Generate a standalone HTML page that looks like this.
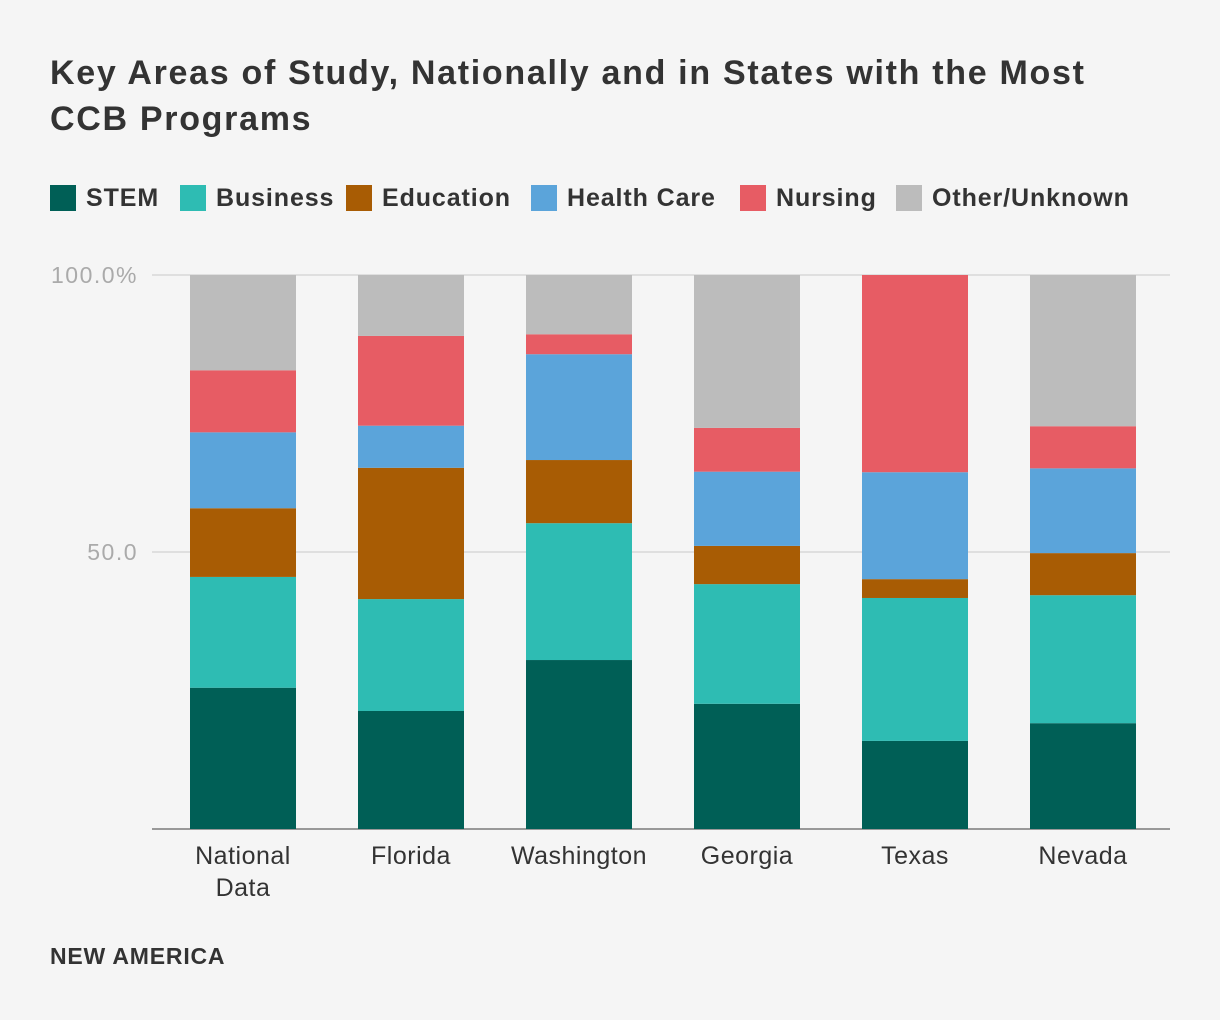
<!DOCTYPE html>
<html><head><meta charset="utf-8"><style>
body{margin:0;background:#f5f5f5;}
svg{display:block;font-family:"Liberation Sans",sans-serif;}
</style></head><body>
<svg id="chart" width="1220" height="1020">
<rect width="1220" height="1020" fill="#f5f5f5"/>
<text x="50" y="84" font-size="34" font-weight="bold" fill="#333" letter-spacing="1.7"><tspan x="50" y="84">Key Areas of Study, Nationally and in States with the Most</tspan><tspan x="50" y="130">CCB Programs</tspan></text>
<g id="legend"></g>
<g id="grid"></g>
<g id="bars"></g>
<g id="xlabels"></g>
<text x="50" y="964" font-size="23" font-weight="bold" fill="#333" letter-spacing="0.8">NEW AMERICA</text>
</svg>
<script>
const categories=["National Data","Florida","Washington","Georgia","Texas","Nevada"];
const seriesNames=["STEM","Business","Education","Health Care","Nursing","Other/Unknown"];
const stem=[25.5,21.3,30.5,22.6,15.9,19.1];
const business=[20.0,20.2,24.7,21.6,25.8,23.1];
const education=[12.4,23.7,11.4,6.9,3.4,7.6];
const healthCare=[13.7,7.6,19.1,13.4,19.3,15.3];
const nursing=[11.2,16.2,3.6,7.9,35.6,7.6];
const other=[17.2,11.0,10.7,27.6,0,27.3];
const tickValues=[0,50,100];
const tickLabels=["","50.0","100.0%"];
const colors=["#005f56","#2ebcb3","#a85c04","#5ba4da","#e75c64","#bcbcbc"];
const series=[stem,business,education,healthCare,nursing,other];
const NS="http://www.w3.org/2000/svg";
const y0=829,yTop=275,xL=152,xR=1170,x0=243,step=168,bw=106;
function y(v){return y0-(v/100)*(y0-yTop);}
function xc(i){return x0+i*step;}
function mk(t,a,p){const e=document.createElementNS(NS,t);for(const k in a)e.setAttribute(k,a[k]);p.appendChild(e);return e;}
const grid=document.getElementById('grid');
tickValues.forEach((v,i)=>{
 const l=mk('line',{x1:xL,x2:xR,y1:y(v),y2:y(v),stroke:v===0?'#999':'#d8d8d8','stroke-width':v===0?2:1.5},grid);
 
 
 if(tickLabels[i]){const t=mk('text',{x:138,y:y(v)+8,'text-anchor':'end','font-size':23,'letter-spacing':1.5,fill:'#aaa'},grid);t.textContent=tickLabels[i];
 
 }
});
const bars=document.getElementById('bars');
categories.forEach((c,i)=>{
 let cum=0;
 series.forEach((s,j)=>{
  const v=s[i];if(v<=0)return;
  const r=mk('rect',{x:xc(i)-bw/2,y:y(cum+v),width:bw,height:y(cum)-y(cum+v),fill:colors[j]},bars);
  
  
  cum+=v;
 });
});
const xl=document.getElementById('xlabels');
categories.forEach((c,i)=>{
 const parts=c==="National Data"?["National","Data"]:[c];
 parts.forEach((p,k)=>{
  const t=mk('text',{x:xc(i),y:864+k*32,'text-anchor':'middle','font-size':25,'letter-spacing':0.5,fill:'#333'},xl);t.textContent=p;
  
  
 });
});
const lg=document.getElementById('legend');
const lx=[50,180,346,531,740,896];
seriesNames.forEach((n,i)=>{
 const r=mk('rect',{x:lx[i],y:185,width:26,height:26,fill:colors[i]},lg);
 
 
 const t=mk('text',{x:lx[i]+36,y:206,'font-size':25,'font-weight':'bold','letter-spacing':0.9,fill:'#333'},lg);t.textContent=n;
 
 
});
</script>
</body></html>
